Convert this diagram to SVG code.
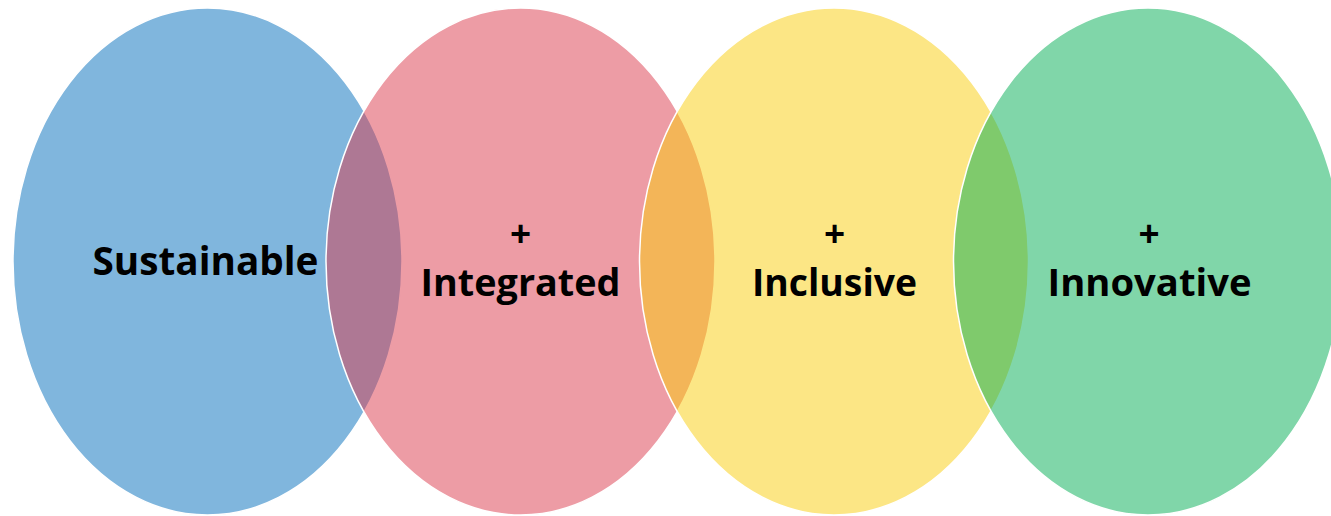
<svg xmlns="http://www.w3.org/2000/svg" width="1331" height="516" viewBox="0 0 1331 516">
  <style>
    .set { fill-opacity: 0.5; stroke: #ffffff; stroke-width: 1.5; }
    .label { font-family: "Open Sans", "Liberation Sans", sans-serif; font-weight: 700; fill: #000000; text-anchor: middle; font-variant-ligatures: none; }
    .big { font-size: 40px; }
    .mid { font-size: 37px; }
  </style>
  <rect width="1331" height="516" fill="#ffffff"/>

  <!-- Four overlapping sets, each half-transparent so overlaps blend -->
  <g id="sustainable">
    <ellipse class="set" cx="207.5" cy="261.5" rx="194.5" ry="253.5" fill="#016DBB"/>
    <text class="label big" x="205.5" y="275" textLength="226" lengthAdjust="spacingAndGlyphs">Sustainable</text>
  </g>

  <g id="integrated">
    <ellipse class="set" cx="520.5" cy="261.5" rx="194.5" ry="253.5" fill="#DB394B"/>
    <text class="label mid" x="520.5" y="247">+</text>
    <text class="label mid" x="520.5" y="296" textLength="200" lengthAdjust="spacingAndGlyphs">Integrated</text>
  </g>

  <g id="inclusive">
    <ellipse class="set" cx="834" cy="261.5" rx="194.5" ry="253.5" fill="#F9CD0B"/>
    <text class="label mid" x="834.5" y="247">+</text>
    <text class="label mid" x="834.5" y="296" textLength="165" lengthAdjust="spacingAndGlyphs">Inclusive</text>
  </g>

  <g id="innovative">
    <ellipse class="set" cx="1148" cy="261.5" rx="194.5" ry="253.5" fill="#01AD53"/>
    <text class="label mid" x="1149" y="247">+</text>
    <text class="label mid" x="1149.5" y="296" textLength="204" lengthAdjust="spacingAndGlyphs">Innovative</text>
  </g>
</svg>
